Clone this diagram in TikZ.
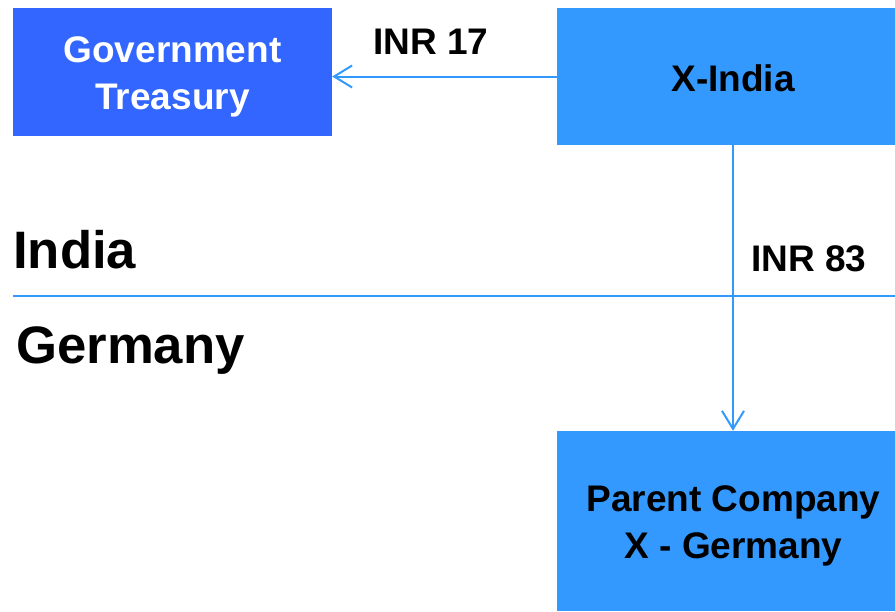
\documentclass[tikz,border=0pt]{standalone}
\usepackage{fontspec}
\setmainfont{Liberation Sans}
\usetikzlibrary{arrows.meta,calc}
\definecolor{govblue}{HTML}{3366FF}
\definecolor{boxblue}{HTML}{3399FF}
\tikzset{
  box/.style={fill=#1, draw=none, inner sep=0pt},
  boxtext/.style={inner sep=0pt, align=center, font=\fontsize{37}{46.5}\selectfont\bfseries},
  flow/.style={draw=boxblue, line width=2pt},
  flowarrow/.style={flow, -{Straight Barb[length=18pt,width=22pt,line width=2pt]}},
  lbl/.style={inner sep=0pt, font=\fontsize{37}{44}\selectfont\bfseries},
  region/.style={inner sep=0pt, anchor=base west, font=\fontsize{52.7}{60}\selectfont\bfseries}
}
\begin{document}
\begin{tikzpicture}[x=1pt,y=-1pt]
\useasboundingbox (0,0) rectangle (895,611);
\node[box=govblue, minimum width=319pt, minimum height=128pt,
  label={[boxtext, text=white, yshift=-5pt]center:{Government\\Treasury}}] (gov) at (172.5,72) {};
\node[box=boxblue, minimum width=338pt, minimum height=137pt,
  label={[boxtext, xshift=7pt, yshift=-2pt]center:X-India}] (xindia) at (726,76.5) {};
\node[box=boxblue, minimum width=338pt, minimum height=180pt,
  label={[boxtext, xshift=7.5pt, yshift=-5pt]center:{Parent Company\\X - Germany}}] (parent) at (726,521) {};
\coordinate (v) at (733,0);
\coordinate (sepL) at (13,296);
\coordinate (sepR) at (895,296);
\draw[flowarrow] (xindia.west) -- (xindia.west -| gov.east);
\draw[flowarrow] (xindia.south -| v) -- (parent.north -| v);
\draw[flow] (sepL) -- (sepR);
\node[lbl] (inr17) at (431,42) {INR 17};
\node[lbl] (inr83) at (809,259) {INR 83};
\node[region] (india) at (13,268) {India};
\node[region] (germany) at (16,363) {Germany};
\end{tikzpicture}
\end{document}
